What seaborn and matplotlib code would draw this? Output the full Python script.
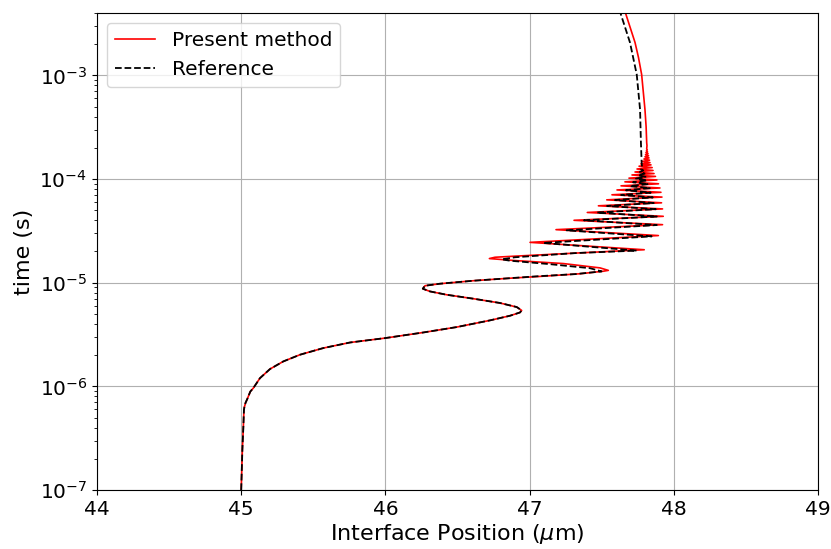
import matplotlib
matplotlib.use("Agg")
import matplotlib.pyplot as plt
import seaborn as sns
import pandas as pd

# ---- Present method (red, solid): interface position (um) vs time (s)
red_t = [1.0e-7, 1.56e-7, 2.43e-7, 4.09e-7, 5.93e-7, 6.3e-7, 6.93e-7, 7.6e-7,
         8.9e-7, 9.62e-7,
         1.20e-6, 1.47e-6, 1.74e-6, 2.02e-6, 2.34e-6, 2.65e-6, 2.92e-6, 3.31e-6,
         3.73e-6, 4.33e-6, 4.80e-6, 5.16e-6, 5.40e-6, 5.82e-6, 6.37e-6, 7.01e-6,
         7.65e-6, 8.24e-6, 8.75e-6, 9.35e-6, 9.78e-6, 1.045e-5, 1.10e-5, 1.15e-5,
         1.22e-5, 1.29e-5, 1.315e-5, 1.39e-5, 1.53e-5, 1.64e-5, 1.71e-5,
         1.76e-5, 1.80e-5, 1.94e-5, 2.08e-5, 2.45e-5, 2.85e-5, 3.25e-5, 3.63e-5,
         4.0e-5, 4.37e-5, 4.76e-5, 5.15e-5, 5.52e-5, 5.9e-5, 6.3e-5, 6.7e-5,
         7.05e-5, 7.45e-5, 7.85e-5, 8.2e-5, 8.6e-5, 9.0e-5, 9.4e-5, 9.8e-5,
         1.02e-4, 1.06e-4, 1.095e-4, 1.13e-4, 1.17e-4, 1.21e-4, 1.25e-4, 1.29e-4,
         1.33e-4, 1.37e-4, 1.40e-4, 1.44e-4, 1.48e-4, 1.52e-4, 1.56e-4, 1.60e-4,
         1.64e-4, 1.68e-4, 1.72e-4, 1.76e-4, 1.80e-4, 1.83e-4, 1.87e-4, 1.91e-4,
         1.95e-4, 2.1e-4, 2.24e-4, 3.2e-4, 4.69e-4, 1.02e-3, 1.49e-3, 2.08e-3,
         4.0e-3]
red_x = [45.0, 45.004, 45.008, 45.015, 45.019, 45.022, 45.030, 45.043,
         45.063, 45.084,
         45.130, 45.200, 45.292, 45.408, 45.569, 45.755, 45.997, 46.263,
         46.494, 46.725, 46.864, 46.933, 46.945, 46.911, 46.795, 46.610,
         46.425, 46.309, 46.259, 46.275, 46.379, 46.610, 46.841, 47.072,
         47.350, 47.511, 47.546, 47.488, 47.234, 46.887, 46.721,
         46.760, 46.887, 47.350, 47.795, 47.003, 47.893, 47.183, 47.922,
         47.308, 47.927, 47.400, 47.922, 47.477, 47.915, 47.535, 47.918,
         47.571, 47.911, 47.606, 47.904, 47.634, 47.894, 47.661, 47.883,
         47.689, 47.873, 47.710, 47.863, 47.731, 47.856, 47.745, 47.850,
         47.759, 47.842, 47.772, 47.835, 47.783, 47.832, 47.793, 47.828,
         47.800, 47.825, 47.804, 47.821, 47.807, 47.818, 47.810, 47.816,
         47.812, 47.814, 47.812, 47.808, 47.800, 47.777, 47.755, 47.731,
         47.665]

# ---- Reference (black, dashed)
ref_t = [1.0e-7, 1.56e-7, 2.43e-7, 4.09e-7, 5.93e-7, 6.3e-7, 6.93e-7, 7.6e-7,
         8.9e-7, 9.62e-7,
         1.20e-6, 1.47e-6, 1.74e-6, 2.02e-6, 2.34e-6, 2.65e-6, 2.92e-6, 3.31e-6,
         3.73e-6, 4.33e-6, 4.80e-6, 5.16e-6, 5.40e-6, 5.82e-6, 6.37e-6, 7.01e-6,
         7.65e-6, 8.24e-6, 8.75e-6, 9.35e-6, 9.78e-6, 1.045e-5, 1.10e-5, 1.15e-5,
         1.21e-5, 1.285e-5, 1.38e-5, 1.51e-5, 1.63e-5, 1.68e-5, 1.76e-5,
         1.93e-5, 2.04e-5, 2.42e-5, 2.80e-5, 3.2e-5, 3.6e-5, 4.0e-5, 4.35e-5,
         4.75e-5, 5.12e-5, 5.5e-5, 5.87e-5, 6.27e-5, 6.65e-5, 7.02e-5, 7.4e-5,
         7.8e-5, 8.17e-5, 8.55e-5, 8.95e-5, 9.32e-5, 9.7e-5, 1.01e-4, 1.05e-4,
         1.09e-4, 1.13e-4, 1.17e-4, 1.21e-4, 1.25e-4, 1.3e-4, 1.44e-4, 2.25e-4,
         4.69e-4, 1.02e-3, 2.08e-3, 4.0e-3]
ref_x = [45.0, 45.004, 45.008, 45.015, 45.019, 45.022, 45.030, 45.043,
         45.063, 45.084,
         45.130, 45.200, 45.292, 45.408, 45.569, 45.755, 45.997, 46.263,
         46.494, 46.725, 46.864, 46.933, 46.945, 46.911, 46.795, 46.610,
         46.425, 46.309, 46.259, 46.275, 46.379, 46.610, 46.841, 47.040,
         47.315, 47.499, 47.419, 47.141, 46.864, 46.807, 46.899,
         47.315, 47.743, 47.095, 47.846, 47.257, 47.882, 47.377, 47.882,
         47.467, 47.875, 47.537, 47.861, 47.592, 47.854, 47.634, 47.840,
         47.668, 47.834, 47.696, 47.823, 47.717, 47.816, 47.738, 47.804,
         47.752, 47.797, 47.765, 47.788, 47.772, 47.780, 47.777, 47.772,
         47.766, 47.743, 47.696, 47.630]

series_labels = ["Present method", "Reference"]
x_ticks = [44, 45, 46, 47, 48, 49]

red_df = pd.DataFrame({"x": red_x, "t": red_t})
ref_df = pd.DataFrame({"x": ref_x, "t": ref_t})

fig = plt.figure(figsize=(8.31, 5.49), dpi=100)
ax = fig.add_axes([97 / 831, 1 - 490 / 549, (818 - 97) / 831, (490 - 13) / 549])

sns.lineplot(data=red_df, x="x", y="t", sort=False, estimator=None, ax=ax,
             color="red", linewidth=1.2, label=series_labels[0])
sns.lineplot(data=ref_df, x="x", y="t", sort=False, estimator=None, ax=ax,
             color="black", linewidth=1.3, linestyle="--", label=series_labels[1])

ax.set_yscale("log")
ax.set_xlim(44, 49)
ax.set_ylim(1e-7, 4e-3)
ax.set_xticks(x_ticks)
ax.grid(True, which="major", color="#b0b0b0", linewidth=0.8)
ax.set_axisbelow(True)
ax.tick_params(labelsize=14.5)
ax.set_xlabel(r"Interface Position ($\mu$m)", fontsize=16, labelpad=2)
ax.set_ylabel("time (s)", fontsize=16)
ax.legend(loc="upper left", fontsize=14.5)

fig.savefig("out.png", dpi=100)
